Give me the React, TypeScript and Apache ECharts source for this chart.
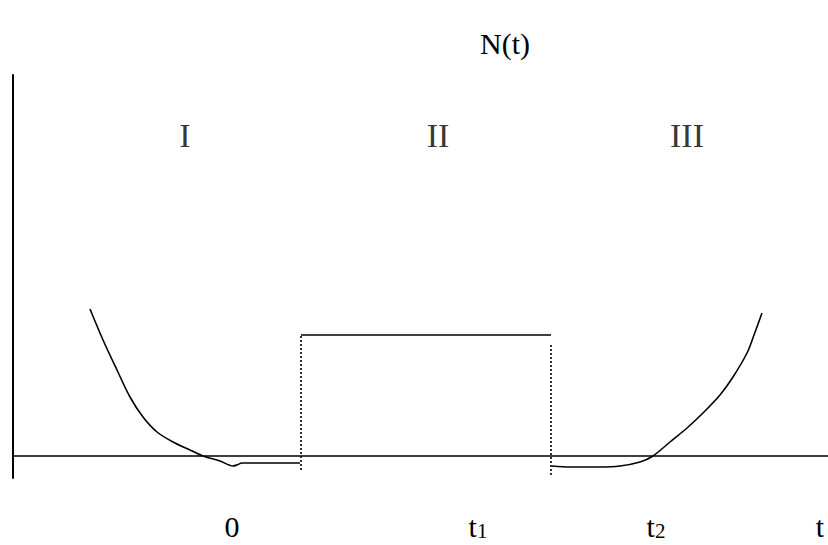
import React, { useEffect, useRef } from "react";
import * as echarts from "echarts";

// Left branch of the curve (region I), x in px-units from the N axis, y in units above the t axis
const leftCurveX = [77, 90, 104, 117, 130, 144, 160, 177, 190, 207, 220, 224, 229, 287];
const leftCurveY = [147, 116, 86, 59, 39, 24, 14, 6, 0, -5, -10, -9, -7, -7];

// Right branch of the curve (region III)
const rightCurveX = [539, 557, 587, 607, 627, 640, 657, 674, 690, 707, 720, 734, 741, 749];
const rightCurveY = [-10, -11, -11, -10, -6, 0, 14, 28, 43, 61, 79, 103, 121, 143];

// Plateau (region II)
const plateauX = [288, 538];
const plateauLevel = 121;
const leftBoundY = [-14, 121];
const rightBoundY = [-19, 113];

// Region labels
const regionNames = ["I", "II", "III"];
const regionX = [172, 425, 674];
const regionY = 321;

// Time-axis labels
const tickValues = [219, 465, 643, 807];
const tickLabels = ["0", "t|1", "t|2", "t"];

const FONT = "'Liberation Serif', 'Times New Roman', serif";

export default function App() {
  const ref = useRef<HTMLDivElement>(null);

  useEffect(() => {
    document.body.style.margin = "0";
    if (!ref.current) return;
    const chart = echarts.init(ref.current, null, { renderer: "svg" });

    const lineBase = {
      type: "line",
      symbol: "none",
      silent: true,
      lineStyle: { color: "#000", width: 1.6 },
    };

    chart.setOption({
      animation: false,
      backgroundColor: "#fff",
      title: {
        text: "N(t)",
        left: 475,
        top: 23,
        textStyle: { fontFamily: FONT, fontSize: 30, fontWeight: "normal", color: "#000" },
      },
      grid: { left: 13, right: 0, top: 75, bottom: 67, containLabel: false, outerBoundsMode: "none" },
      xAxis: {
        type: "value",
        min: 0,
        max: 815,
        axisLine: { show: true, onZero: true, lineStyle: { color: "#000", width: 1.6 } },
        axisTick: { show: false },
        splitLine: { show: false },
        axisLabel: {
          customValues: tickValues,
          margin: 33,
          verticalAlign: "top",
          hideOverlap: false,
          formatter: (v: number) => {
            const i = tickValues.indexOf(v);
            const lab = i >= 0 ? tickLabels[i] : "";
            const parts = lab.split("|");
            return parts.length > 1 ? `{m|${parts[0]}}{s|${parts[1]}}` : `{m|${parts[0]}}`;
          },
          rich: {
            m: { fontFamily: FONT, fontSize: 30, color: "#000", lineHeight: 30, verticalAlign: "top" },
            s: { fontFamily: FONT, fontSize: 21, color: "#000", lineHeight: 21, padding: [8, 0, 0, 0], verticalAlign: "bottom" },
          },
        },
      },
      yAxis: {
        type: "value",
        min: -22,
        max: 381,
        axisLine: { show: true, onZero: false, lineStyle: { color: "#000", width: 2 } },
        axisTick: { show: false },
        axisLabel: { show: false },
        splitLine: { show: false },
      },
      series: [
        {
          ...lineBase,
          name: "early",
          smooth: 0.3,
          data: leftCurveX.map((x, i) => [x, leftCurveY[i]]),
        },
        {
          ...lineBase,
          name: "late",
          smooth: 0.3,
          data: rightCurveX.map((x, i) => [x, rightCurveY[i]]),
        },
        {
          ...lineBase,
          name: "plateau",
          data: plateauX.map((x) => [x, plateauLevel]),
        },
        {
          ...lineBase,
          name: "t1bound",
          lineStyle: { color: "#000", width: 1.6, type: [2, 2] },
          data: leftBoundY.map((y) => [plateauX[0], y]),
        },
        {
          ...lineBase,
          name: "t2bound",
          lineStyle: { color: "#000", width: 1.6, type: [2, 2] },
          data: rightBoundY.map((y) => [plateauX[1], y]),
        },
        {
          type: "scatter",
          name: "regions",
          symbolSize: 0,
          silent: true,
          data: regionNames.map((n, i) => ({ name: n, value: [regionX[i], regionY] })),
          label: {
            show: true,
            position: "inside",
            formatter: (p: any) => p.name,
            fontFamily: FONT,
            fontSize: 34,
            color: "#000",
          },
        },
      ],
    });

    return () => chart.dispose();
  }, []);

  return <div ref={ref} style={{ width: 828, height: 545 }} />;
}
